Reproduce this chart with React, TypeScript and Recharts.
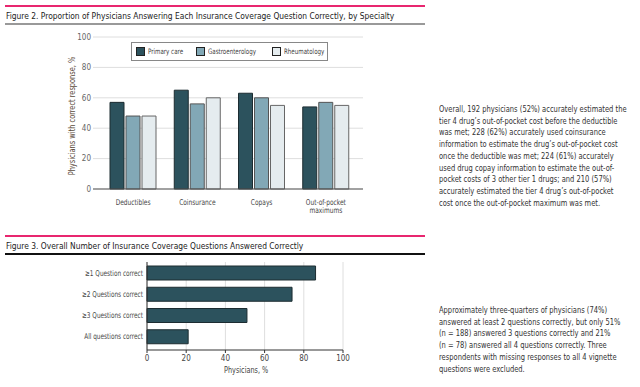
import React from 'react';
import {
  BarChart,
  Bar,
  XAxis,
  YAxis,
  CartesianGrid,
} from 'recharts';

// Figure 2 data
const topics = ['Deductibles', 'Coinsurance', 'Copays', 'Out-of-pocket maximums'];
const primaryCare = [57, 65, 63, 54];
const gastroenterology = [48, 56, 60, 57];
const rheumatology = [48, 60, 55, 55];
const pctTicks = [0, 20, 40, 60, 80, 100];

// Figure 3 data
const answerLevels = [
  '≥1 Question correct',
  '≥2 Questions correct',
  '≥3 Questions correct',
  'All questions correct',
];
const answerPct = [86, 74, 51, 21];

const para1 = [
  'Overall, 192 physicians (52%) accurately estimated the',
  'tier 4 drug’s out-of-pocket cost before the deductible',
  'was met; 228 (62%) accurately used coinsurance',
  'information to estimate the drug’s out-of-pocket cost',
  'once the deductible was met; 224 (61%) accurately',
  'used drug copay information to estimate the out-of-',
  'pocket costs of 3 other tier 1 drugs; and 210 (57%)',
  'accurately estimated the tier 4 drug’s out-of-pocket',
  'cost once the out-of-pocket maximum was met.',
];
const para2 = [
  'Approximately three-quarters of physicians (74%)',
  'answered at least 2 questions correctly, but only 51%',
  '(n = 188) answered 3 questions correctly and 21%',
  '(n = 78) answered all 4 questions correctly. Three',
  'respondents with missing responses to all 4 vignette',
  'questions were excluded.',
];

const series = [
  { key: 'primary', name: 'Primary care', fill: '#2c525d', stroke: '#1c2c31' },
  { key: 'gastro', name: 'Gastroenterology', fill: '#82a8b6', stroke: '#555' },
  { key: 'rheum', name: 'Rheumatology', fill: '#e5ecef', stroke: '#666' },
];

const specialtyData = topics.map((t, i) => ({
  topic: t,
  primary: primaryCare[i],
  gastro: gastroenterology[i],
  rheum: rheumatology[i],
}));

const answerData = answerLevels.map((l, i) => ({ level: l, pct: answerPct[i] }));

const FONT = "'DejaVu Sans Condensed', 'Liberation Sans Narrow', 'Open Sans', sans-serif";

// squeeze html text horizontally (the source uses a narrow face)
const Narrow = ({ sx, children }: { sx: number; children: React.ReactNode }) => (
  <span style={{ display: 'inline-block', transform: `scaleX(${sx})`, transformOrigin: 'left center', whiteSpace: 'nowrap' }}>
    {children}
  </span>
);

const TopicTick = (props: any) => {
  const { x, y, payload } = props;
  const words: string[] = payload.value.length > 12 ? payload.value.split(' ') : [payload.value];
  return (
    <g transform={`translate(${x},${y})`}>
      <text transform="scale(0.82,1)" textAnchor="middle" fill="#444" fontSize={8} fontFamily={FONT}>
        {words.map((w, i) => (
          <tspan key={i} x={0} dy={i === 0 ? 8 : 8.5}>
            {w}
          </tspan>
        ))}
      </text>
    </g>
  );
};

const LevelTick = (props: any) => {
  const { x, y, payload } = props;
  return (
    <g transform={`translate(${x},${y})`}>
      <text transform="scale(0.8,1)" textAnchor="end" dy={3} fill="#444" fontSize={8} fontFamily={FONT}>
        {payload.value}
      </text>
    </g>
  );
};

export default function App() {
  return (
    <div
      style={{
        position: 'absolute',
        left: 0,
        top: 0,
        width: 640,
        height: 387,
        background: '#fff',
        fontFamily: FONT,
        overflow: 'hidden',
      }}
    >
      {/* Figure 2 header */}
      <div style={{ position: 'absolute', left: 5, top: 5, width: 420, height: 2, background: '#e8266f' }} />
      <div style={{ position: 'absolute', left: 6, top: 10, fontSize: 9.5, color: '#222' }}>
        <Narrow sx={0.88}>
          Figure 2. Proportion of Physicians Answering Each Insurance Coverage Question Correctly, by Specialty
        </Narrow>
      </div>
      <div style={{ position: 'absolute', left: 5, top: 23, width: 420, height: 1.5, background: '#999' }} />

      <div style={{ position: 'absolute', left: 0, top: 0 }}>
        <BarChart
          width={380}
          height={225}
          data={specialtyData}
          margin={{ top: 37, right: 17, bottom: 6, left: 73 }}
          barSize={14}
          barGap={2}
        >
          <CartesianGrid vertical={false} stroke="#dedede" />
          <XAxis
            dataKey="topic"
            height={30}
            padding={{ left: 8, right: 5 }}
            tick={<TopicTick />}
            tickLine={false}
            axisLine={{ stroke: '#555', strokeWidth: 1.2 }}
            interval={0}
          />
          <YAxis
            width={20}
            domain={[0, 100]}
            ticks={pctTicks}
            axisLine={false}
            tickLine={false}
            tickSize={0}
            tickMargin={2}
            tick={{ fontSize: 8, fill: '#666', fontFamily: FONT }}
          />
          {series.map((s) => (
            <Bar
              key={s.key}
              dataKey={s.key}
              name={s.name}
              fill={s.fill}
              stroke={s.stroke}
              strokeWidth={1}
              isAnimationActive={false}
            />
          ))}
        </BarChart>
      </div>

      <div
        style={{
          position: 'absolute',
          left: 72,
          top: 116,
          transform: 'translate(-50%, -50%) rotate(-90deg) scaleX(0.92)',
          fontSize: 8,
          color: '#5a4a3a',
          whiteSpace: 'nowrap',
        }}
      >
        Physicians with correct response, %
      </div>

      {/* legend */}
      <div
        style={{
          position: 'absolute',
          left: 131,
          top: 42,
          width: 197,
          height: 19,
          border: '1px solid #888',
          background: '#fff',
          boxSizing: 'border-box',
        }}
      >
        {series.map((s, i) => (
          <div
            key={s.key}
            style={{
              position: 'absolute',
              left: [4, 64, 140][i],
              top: 4,
              display: 'flex',
              alignItems: 'center',
              fontSize: 7.5,
              lineHeight: '9px',
              color: '#444',
              whiteSpace: 'nowrap',
            }}
          >
            <span
              style={{
                display: 'inline-block',
                width: 7,
                height: 7,
                background: s.fill,
                border: '1px solid #222',
                marginRight: 3,
              }}
            />
            <Narrow sx={0.82}>{s.name}</Narrow>
          </div>
        ))}
      </div>

      {/* Figure 2 text */}
      <div style={{ position: 'absolute', left: 439, top: 104, fontSize: 8.6, color: '#333', lineHeight: '11.7px' }}>
        {para1.map((l, i) => (
          <div key={i}>
            <Narrow sx={0.87}>{l}</Narrow>
          </div>
        ))}
      </div>

      {/* Figure 3 header */}
      <div style={{ position: 'absolute', left: 5, top: 235, width: 420, height: 2, background: '#e8266f' }} />
      <div style={{ position: 'absolute', left: 6, top: 240, fontSize: 9.5, color: '#222' }}>
        <Narrow sx={0.88}>Figure 3. Overall Number of Insurance Coverage Questions Answered Correctly</Narrow>
      </div>
      <div style={{ position: 'absolute', left: 5, top: 253, width: 420, height: 1.5, background: '#111' }} />

      <div style={{ position: 'absolute', left: 0, top: 230 }}>
        <BarChart
          width={380}
          height={150}
          data={answerData}
          layout="vertical"
          margin={{ top: 32, right: 37, bottom: 5, left: 47 }}
          barSize={14}
        >
          <CartesianGrid horizontal={false} stroke="#dedede" />
          <XAxis
            type="number"
            domain={[0, 100]}
            ticks={pctTicks}
            height={25}
            axisLine={{ stroke: '#333' }}
            tickLine={{ stroke: '#333' }}
            tickSize={3}
            tickMargin={2}
            tick={{ fontSize: 8, fill: '#444', fontFamily: FONT }}
          />
          <YAxis
            type="category"
            dataKey="level"
            width={100}
            padding={{ top: 0, bottom: 3 }}
            axisLine={{ stroke: '#333' }}
            tickLine={false}
            tickSize={0}
            tickMargin={4}
            interval={0}
            tick={<LevelTick />}
          />
          <Bar dataKey="pct" fill="#2c525d" stroke="#1c2c31" strokeWidth={1} isAnimationActive={false} />
        </BarChart>
      </div>
      <div style={{ position: 'absolute', left: 224, top: 365, fontSize: 8.5, color: '#444', lineHeight: '10px' }}>
        <Narrow sx={0.85}>Physicians, %</Narrow>
      </div>

      {/* Figure 3 text */}
      <div style={{ position: 'absolute', left: 439, top: 305, fontSize: 8.6, color: '#333', lineHeight: '11.7px' }}>
        {para2.map((l, i) => (
          <div key={i}>
            <Narrow sx={0.87}>{l}</Narrow>
          </div>
        ))}
      </div>
    </div>
  );
}
